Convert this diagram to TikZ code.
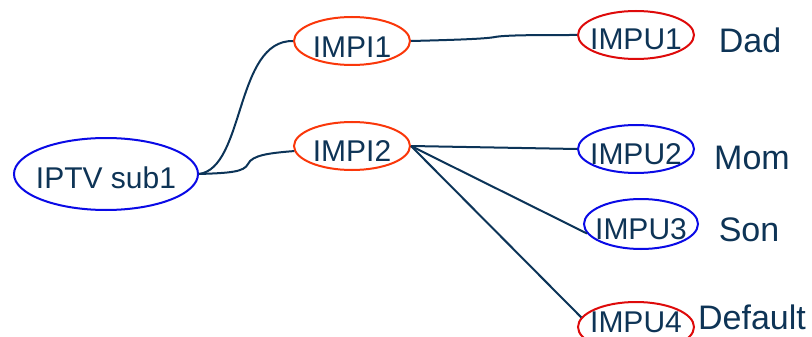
\documentclass[tikz,border=0pt]{standalone}
\usepackage{fontspec}
\setmainfont{Liberation Sans}
\usetikzlibrary{shapes.geometric}
\definecolor{navy}{RGB}{12,52,88}
\definecolor{txtcol}{RGB}{14,52,86}
\definecolor{orred}{RGB}{250,55,10}
\definecolor{dred}{RGB}{222,10,10}
\definecolor{eblue}{RGB}{10,10,230}
\tikzset{
  ell/.style={ellipse, draw, line width=2pt, inner sep=0pt, minimum width=116pt, minimum height=48pt},
  etxt/.style={text=txtcol, inner sep=0pt, font=\fontsize{30}{36}\selectfont},
  lbl/.style={text=txtcol, inner sep=0pt, font=\fontsize{34}{40}\selectfont},
  conn/.style={draw=navy, line width=2pt}
}
\begin{document}
\begin{tikzpicture}[x=1pt,y=-1pt]
\clip (0,0) rectangle (812,337);
\fill[white] (0,0) rectangle (812,337);
% ellipses
\node[ell, draw=eblue, minimum width=184pt, minimum height=72pt] (iptv) at (106,174) {};
\node[ell, draw=orred] (impi1) at (352,41) {};
\node[ell, draw=orred] (impi2) at (352,146) {};
\node[ell, draw=dred] (impu1) at (636,35) {};
\node[ell, draw=eblue] (impu2) at (636,149) {};
\node[ell, draw=eblue, minimum width=114pt, minimum height=50pt] (impu3) at (641,224) {};
\node[ell, draw=dred, minimum height=50pt] (impu4) at (636,327) {};
% ellipse texts
\node[etxt] (tiptv) at ([yshift=-4pt]iptv.center) {IPTV sub1};
\node[etxt] (timpi1) at ([yshift=-6pt]impi1.center) {IMPI1};
\node[etxt] (timpi2) at ([yshift=-5pt]impi2.center) {IMPI2};
\node[etxt] (timpu1) at ([yshift=-4pt]impu1.center) {IMPU1};
\node[etxt] (timpu2) at ([yshift=-5pt]impu2.center) {IMPU2};
\node[etxt] (timpu3) at ([yshift=-5pt]impu3.center) {IMPU3};
\node[etxt] (timpu4) at ([yshift=5pt]impu4.center) {IMPU4};
% labels
\node[lbl] (dad) at (750,40) {Dad};
\node[lbl] (mom) at (752,158) {Mom};
\node[lbl] (son) at (749,230) {Son};
\node[lbl] (default) at (752,317) {Default};
% connectors
\draw[conn] (iptv.east) .. controls (245,168) and (235,40) .. (impi1.west);
\draw[conn] (iptv.east) .. controls (230,173) and (244,172) .. (248,164) .. controls (252,155) and (270,153) .. (impi2.185);
\draw[conn] (impi1.east) .. controls (450,40) and (485,39) .. (495,37) .. controls (505,35) and (540,35) .. (impu1.west);
\draw[conn] (impi2.east) -- (impu2.west);
\draw[conn] (impi2.east) -- (impu3.190);
\draw[conn] (impi2.east) -- (impu4.170);
\end{tikzpicture}
\end{document}
